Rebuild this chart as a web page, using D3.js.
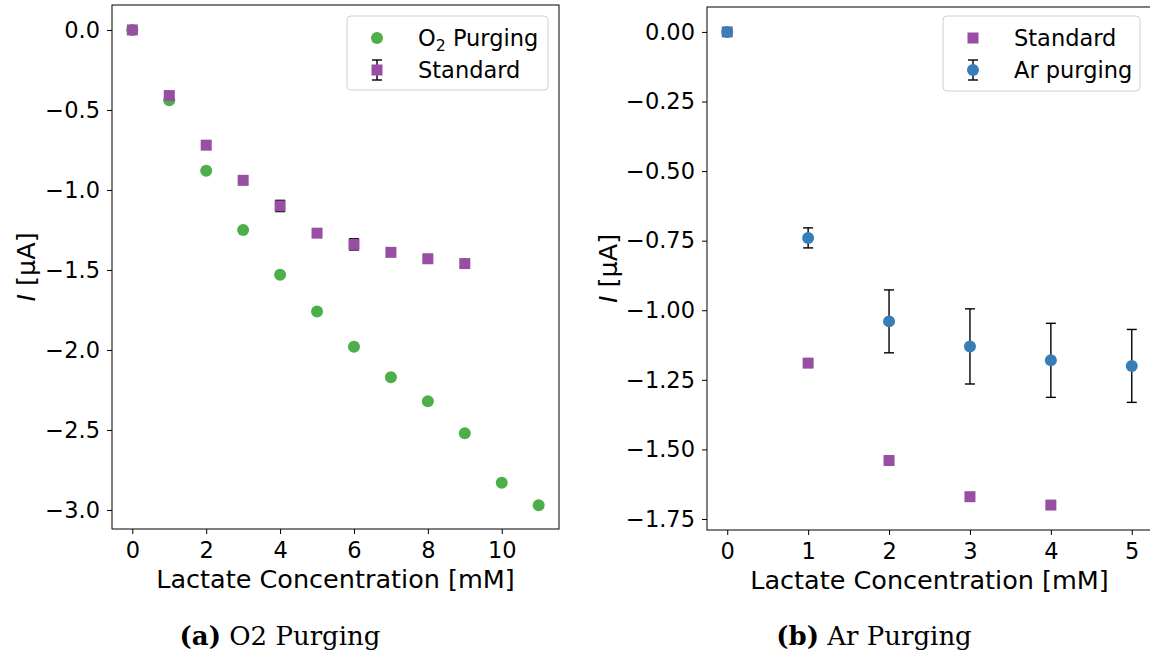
<!DOCTYPE html>
<html><head><meta charset="utf-8">
<script src="https://cdn.jsdelivr.net/npm/d3@7"></script>
<style>body{margin:0;background:#fff}svg{display:block}</style>
</head><body><svg id="c" width="1150" height="655"></svg>
<script>
// Panel (a) data
const aX_o2 = [0,1,2,3,4,5,6,7,8,9,10,11];
const aY_o2 = [0,-0.44,-0.88,-1.25,-1.53,-1.76,-1.98,-2.17,-2.32,-2.52,-2.83,-2.97];
const aX_std = [0,1,2,3,4,5,6,7,8,9];
const aY_std = [0,-0.41,-0.72,-0.94,-1.10,-1.27,-1.34,-1.39,-1.43,-1.46];
const aErr_std = [0,0.02,0.02,0.02,0.035,0.02,0.035,0.02,0.02,0.02];
const aXTicks = [0,2,4,6,8,10];
const aYTicks = [0,-0.5,-1.0,-1.5,-2.0,-2.5,-3.0];
// Panel (b) data
const bX_std = [0,1,2,3,4];
const bY_std = [0,-1.19,-1.54,-1.67,-1.70];
const bX_ar = [0,1,2,3,4,5];
const bY_ar = [0,-0.74,-1.04,-1.13,-1.18,-1.20];
const bErr_ar = [0,0.036,0.113,0.135,0.133,0.131];
const bXTicks = [0,1,2,3,4,5];
const bYTicks = [0,-0.25,-0.5,-0.75,-1.0,-1.25,-1.5,-1.75];

const GREEN="#4daf4a", PURPLE="#984ea3", BLUE="#377eb8";
const FONT="DejaVu Sans", FS=22.5, LFS=25.5;
const svg=d3.select("#c");

function panel(o){
  const g=svg.append("g");
  const x=d3.scaleLinear().domain(o.xd).range([o.l,o.r]);
  const y=d3.scaleLinear().domain(o.yd).range([o.b,o.t]);
  const xa=d3.axisBottom(x).tickValues(o.xt).tickSize(5).tickPadding(8).tickFormat(o.xf);
  const ya=d3.axisLeft(y).tickValues(o.yt).tickSize(5).tickPadding(7).tickFormat(o.yf);
  const gx=g.append("g").attr("transform",`translate(0,${o.b})`).call(xa);
  const gy=g.append("g").attr("transform",`translate(${o.l},0)`).call(ya);
  [gx,gy].forEach(a=>{a.select(".domain").remove();a.selectAll("text").attr("font-family",FONT).attr("font-size",FS).attr("fill","#000");a.selectAll("line").attr("stroke","#000").attr("stroke-width",1);});
  g.append("rect").attr("x",o.l).attr("y",o.t).attr("width",o.r-o.l).attr("height",o.b-o.t).attr("fill","none").attr("stroke","#000").attr("stroke-width",1);
  g.append("text").attr("x",(o.l+o.r)/2).attr("y",o.b+59).attr("text-anchor","middle").attr("font-family",FONT).attr("font-size",LFS).text("Lactate Concentration [mM]");
  const yl=g.append("text").attr("transform",`translate(${o.yl},${(o.t+o.b)/2}) rotate(-90)`).attr("text-anchor","middle").attr("font-family",FONT).attr("font-size",LFS);
  yl.append("tspan").attr("font-style","italic").text("I");
  yl.append("tspan").text(" [μA]");
  return {g,x,y};
}

function errbars(p,xs,ys,es){
  const gg=p.g.append("g").attr("stroke","#000").attr("stroke-width",1.4);
  xs.forEach((xv,i)=>{ if(!es[i]) return;
    const cx=p.x(xv), y1=p.y(ys[i]+es[i]), y2=p.y(ys[i]-es[i]);
    gg.append("line").attr("x1",cx).attr("x2",cx).attr("y1",y1).attr("y2",y2);
    gg.append("line").attr("x1",cx-5).attr("x2",cx+5).attr("y1",y1).attr("y2",y1);
    gg.append("line").attr("x1",cx-5).attr("x2",cx+5).attr("y1",y2).attr("y2",y2);
  });
}
function circles(p,xs,ys,c){
  p.g.append("g").selectAll("circle").data(xs).join("circle").attr("cx",d=>p.x(d)).attr("cy",(d,i)=>p.y(ys[i])).attr("r",6).attr("fill",c);
}
function squares(p,xs,ys,c){
  p.g.append("g").selectAll("rect").data(xs).join("rect").attr("x",d=>p.x(d)-5.5).attr("y",(d,i)=>p.y(ys[i])-5.5).attr("width",11).attr("height",11).attr("fill",c);
}
function legend(x0,y0,w,h,items){
  const g=svg.append("g");
  g.append("rect").attr("x",x0).attr("y",y0).attr("width",w).attr("height",h).attr("rx",4).attr("fill","#fff").attr("fill-opacity",0.8).attr("stroke","#d0d0d0").attr("stroke-width",1);
  items.forEach((it,i)=>{
    const cy=y0+22+i*32, cx=x0+30;
    if(it.err){
      g.append("line").attr("x1",cx).attr("x2",cx).attr("y1",cy-10).attr("y2",cy+10).attr("stroke","#000").attr("stroke-width",1.4);
      g.append("line").attr("x1",cx-5).attr("x2",cx+5).attr("y1",cy-10).attr("y2",cy-10).attr("stroke","#000").attr("stroke-width",1.4);
      g.append("line").attr("x1",cx-5).attr("x2",cx+5).attr("y1",cy+10).attr("y2",cy+10).attr("stroke","#000").attr("stroke-width",1.4);
    }
    if(it.shape==="c") g.append("circle").attr("cx",cx).attr("cy",cy).attr("r",6).attr("fill",it.color);
    else g.append("rect").attr("x",cx-5.5).attr("y",cy-5.5).attr("width",11).attr("height",11).attr("fill",it.color);
    const t=g.append("text").attr("x",x0+71).attr("y",cy+8).attr("font-family",FONT).attr("font-size",FS);
    it.label(t);
  });
}
const minus=s=>s.replace("-","\u2212");

const pa=panel({l:112,r:559,t:5,b:529,xd:[-0.55,11.55],yd:[-3.119,0.156],xt:aXTicks,yt:aYTicks,
  xf:d=>d, yf:d=>minus(d3.format(".1f")(d)), yl:35});
circles(pa,aX_o2,aY_o2,GREEN);
errbars(pa,aX_std,aY_std,aErr_std);
squares(pa,aX_std,aY_std,PURPLE);
legend(347,16,201,74,[
  {shape:"c",color:GREEN,label:t=>{t.append("tspan").text("O");t.append("tspan").attr("font-size",FS*0.7).attr("dy",5).text("2");t.append("tspan").attr("dy",-5).text(" Purging");}},
  {shape:"s",color:PURPLE,err:true,label:t=>t.text("Standard")}
]);

const pb=panel({l:707,r:1152,t:7,b:530,xd:[-0.25,5.25],yd:[-1.7896,0.0896],xt:bXTicks,yt:bYTicks,
  xf:d=>d, yf:d=>minus(d3.format(".2f")(d)), yl:617});
squares(pb,bX_std,bY_std,PURPLE);
errbars(pb,bX_ar,bY_ar,bErr_ar);
circles(pb,bX_ar,bY_ar,BLUE);
legend(943,16,197,75,[
  {shape:"s",color:PURPLE,label:t=>t.text("Standard")},
  {shape:"c",color:BLUE,err:true,label:t=>t.text("Ar purging")}
]);

function caption(cx,lab,txt){
  const t=svg.append("text").attr("x",cx).attr("y",645).attr("text-anchor","middle").attr("font-family","DejaVu Serif").attr("font-size",26);
  t.append("tspan").attr("font-weight","bold").text(lab);
  t.append("tspan").text(" "+txt);
}
caption(280,"(a)","O2 Purging");
caption(874,"(b)","Ar Purging");
</script></body></html>
